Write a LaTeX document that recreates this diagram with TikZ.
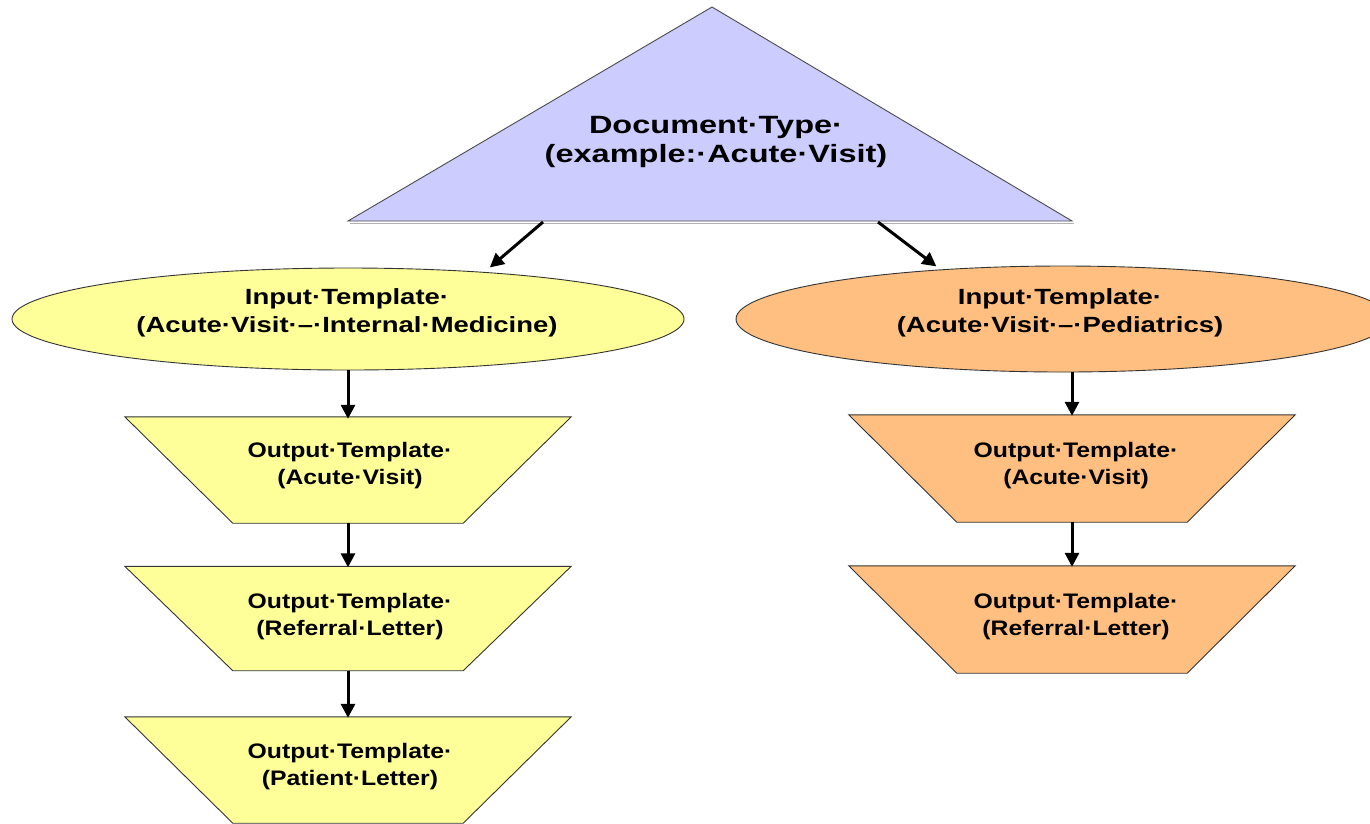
\documentclass[tikz,border=0pt]{standalone}
\usepackage{fontspec}
\setmainfont{Liberation Sans}
\newfontfamily\triFont[FakeStretch=1.3]{Liberation Sans}
\newfontfamily\ellFont[FakeStretch=1.25]{Liberation Sans}
\newfontfamily\tzFont[FakeStretch=1.18]{Liberation Sans}
\usetikzlibrary{shapes.geometric,arrows.meta,calc,backgrounds}
\definecolor{lav}{HTML}{CCCCFF}
\definecolor{yel}{HTML}{FFFF99}
\definecolor{org}{HTML}{FFBF80}
\newcommand{\trapz}[2]{%
  \path[fill=#2, draw=black!80, line width=0.9pt]
    (#1.north west) -- (#1.north east) -- ([xshift=-108pt]#1.south east)
    -- ([xshift=108pt]#1.south west) -- cycle;}
\begin{document}
\begin{tikzpicture}[x=1pt,y=-1pt,
  arr/.style={-{Triangle[length=14pt,width=14pt]}, line width=3pt, black},
  ell/.style={ellipse, draw=black!80, line width=0.9pt, inner sep=0pt},
  tzbox/.style={rectangle, inner sep=0pt, minimum width=446pt},
  ttri/.style={font=\triFont\bfseries\fontsize{25}{29}\selectfont, align=center},
  tell/.style={font=\ellFont\bfseries\fontsize{22}{28}\selectfont, align=center},
  ttz/.style={font=\tzFont\bfseries\fontsize{21}{27}\selectfont, align=center}]
\useasboundingbox (0,0) rectangle (1370,823);
\clip (0,0) rectangle (1370,823);
\fill[white] (0,0) rectangle (1370,823);

% triangle
\draw[gray!60, line width=1.5pt] (350,223.5) -- (1074,223.5);
\path[fill=lav, draw=black!70, line width=0.9pt] (712,7) -- (1072,221) -- (348,221) -- cycle;
\node[ttri] (doc) at (716,142) {Document·Type·\\(example:·Acute·Visit)};
\coordinate (dL) at (543,222);
\coordinate (dR) at (878,222);

% input templates
\node[ell, fill=yel, minimum width=672pt, minimum height=102pt] (inL) at (348,319) {};
\node[tell] (inLt) at (347,313) {Input·Template·\\(Acute·Visit·–·Internal·Medicine)};
\node[ell, fill=org, minimum width=654pt, minimum height=106pt] (inR) at (1063,319) {};
\node[tell] (inRt) at (1060,313) {Input·Template·\\(Acute·Visit·–·Pediatrics)};

% output templates (left)
\node[tzbox, minimum height=106pt] (oL1) at (348,470) {};
\node[tzbox, minimum height=104pt] (oL2) at (348,618.5) {};
\node[tzbox, minimum height=106pt] (oL3) at (348,770) {};
% output templates (right)
\node[tzbox, minimum height=107pt] (oR1) at (1072,468.5) {};
\node[tzbox, minimum height=107pt] (oR2) at (1072,619.5) {};
\trapz{oL1}{yel}\trapz{oL2}{yel}\trapz{oL3}{yel}
\trapz{oR1}{org}\trapz{oR2}{org}
\node[ttz] (oL1t) at (350,466) {Output·Template·\\(Acute·Visit)};
\node[ttz] (oL2t) at (350,617) {Output·Template·\\(Referral·Letter)};
\node[ttz] (oL3t) at (350,767) {Output·Template·\\(Patient·Letter)};
\node[ttz] (oR1t) at (1076,466) {Output·Template·\\(Acute·Visit)};
\node[ttz] (oR2t) at (1076,617) {Output·Template·\\(Referral·Letter)};

% connectors
\draw[arr, shorten >=7pt] (dL) -- (inL.19.5);
\draw[arr, shorten >=5pt] (dR) -- (inR.158.5);
\draw[arr] (inL.south) -- ([yshift=-2pt]oL1.north);
\draw[arr] (oL1.south) -- ([yshift=-1pt]oL2.north);
\draw[arr] (oL2.south) -- ([yshift=-1pt]oL3.north);
\draw[arr] (oR1.north |- inR.south) -- ([yshift=-1pt]oR1.north);
\draw[arr] (oR1.south) -- ([yshift=-1pt]oR2.north);
\end{tikzpicture}
\end{document}
